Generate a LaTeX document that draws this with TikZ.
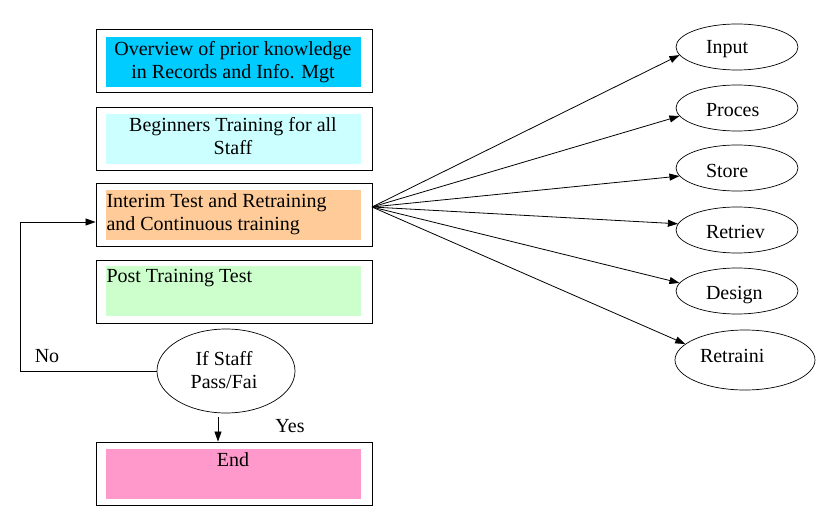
\documentclass[tikz,border=0pt]{standalone}
\usepackage{fontspec}
\setmainfont{Liberation Serif}
\usetikzlibrary{shapes.geometric,arrows.meta}
\definecolor{cskyblue}{HTML}{00CCFF}
\definecolor{clightcyan}{HTML}{CCFFFF}
\definecolor{cpeach}{HTML}{FFCC99}
\definecolor{clightgreen}{HTML}{CCFFCC}
\definecolor{cpink}{HTML}{FF99CC}
\begin{document}
\begin{tikzpicture}[x=1pt,y=-1pt,
  font=\fontsize{20}{22.5}\selectfont,
  outerbox/.style={draw=black,line width=0.9pt,rectangle,minimum width=276pt,minimum height=63pt,inner sep=0pt},
  fillbox/.style={rectangle,minimum width=255pt,minimum height=50pt,inner sep=0pt,draw=none},
  oval/.style={draw=black,line width=0.7pt,ellipse,minimum width=122pt,minimum height=46pt,inner sep=0pt},
  txt/.style={inner sep=0pt,outer sep=0pt},
  arr/.style={draw=black,line width=0.8pt,-{Triangle[length=10pt,width=7pt]}}
]
\useasboundingbox (0,0) rectangle (830,519);
\fill[white] (0,0) rectangle (830,519);

% left column boxes
\node[outerbox] (box1) at (234,61) {};
\node[fillbox,fill=cskyblue] (fill1) at (233.5,62) {};
\node[txt,anchor=base,align=center] (t1) at (233,78) {Overview of prior knowledge\\in Records and Info. Mgt};

\node[outerbox] (box2) at (234,139) {};
\node[fillbox,fill=clightcyan] (fill2) at (233.5,138.5) {};
\node[txt,anchor=base,align=center] (t2) at (233,154) {Beginners Training for all\\Staff};

\node[outerbox] (box3) at (234,215) {};
\node[fillbox,fill=cpeach] (fill3) at (233.5,215) {};
\node[txt,anchor=base west,align=left] (t3) at (106.5,230) {Interim Test and Retraining\\and Continuous training};

\node[outerbox] (box4) at (234,291.5) {};
\node[fillbox,fill=clightgreen] (fill4) at (233.5,291) {};
\node[txt,anchor=base west] (t4) at (106.5,282) {Post Training Test};

\node[outerbox] (box5) at (234,473.5) {};
\node[fillbox,fill=cpink] (fill5) at (233.5,473.5) {};
\node[txt,anchor=base] (t5) at (233,466) {End};

% decision
\node[draw=black,line width=0.7pt,ellipse,minimum width=138pt,minimum height=84pt,inner sep=0pt] (dec) at (226,371) {};
\node[txt,anchor=base,align=center] (tdec) at (224,388) {If Staff\\Pass/Fai};

\node[txt,anchor=base] (tno) at (47,362) {No};
\node[txt,anchor=base] (tyes) at (290,432) {Yes};

% loop back (No)
\coordinate (lc) at (20,222);
\draw[arr] (dec.west) -| (lc) -- (lc -| box3.west);

% yes arrow
\coordinate (ys) at (218,417);
\draw[arr] (ys) -- (ys |- box5.north);

% right ovals
\node[oval] (input) at (737,47) {};
\node[oval] (proces) at (737,108) {};
\node[oval] (store) at (737,168) {};
\node[oval] (retriev) at (737,230) {};
\node[oval] (design) at (737,291) {};
\node[oval,minimum width=140pt,minimum height=60pt] (retraini) at (745,360) {};

\node[txt,anchor=base west] (tinput) at (706,54) {Input};
\node[txt,anchor=base west] (tproces) at (706,116) {Proces};
\node[txt,anchor=base west] (tstore) at (706,177) {Store};
\node[txt,anchor=base west] (tretriev) at (706,238) {Retriev};
\node[txt,anchor=base west] (tdesign) at (706,299) {Design};
\node[txt,anchor=base west] (tretraini) at (700,362) {Retraini};

% fan-out arrows
\coordinate (hub) at (372,207);
\draw[arr] (hub) -- (input.188);
\draw[arr] (hub) -- (proces.188);
\draw[arr] (hub) -- (store.188);
\draw[arr] (hub) -- (retriev.174);
\draw[arr] (hub) -- (design.172);
\draw[arr] (hub) -- (retraini.165);
\end{tikzpicture}
\end{document}
